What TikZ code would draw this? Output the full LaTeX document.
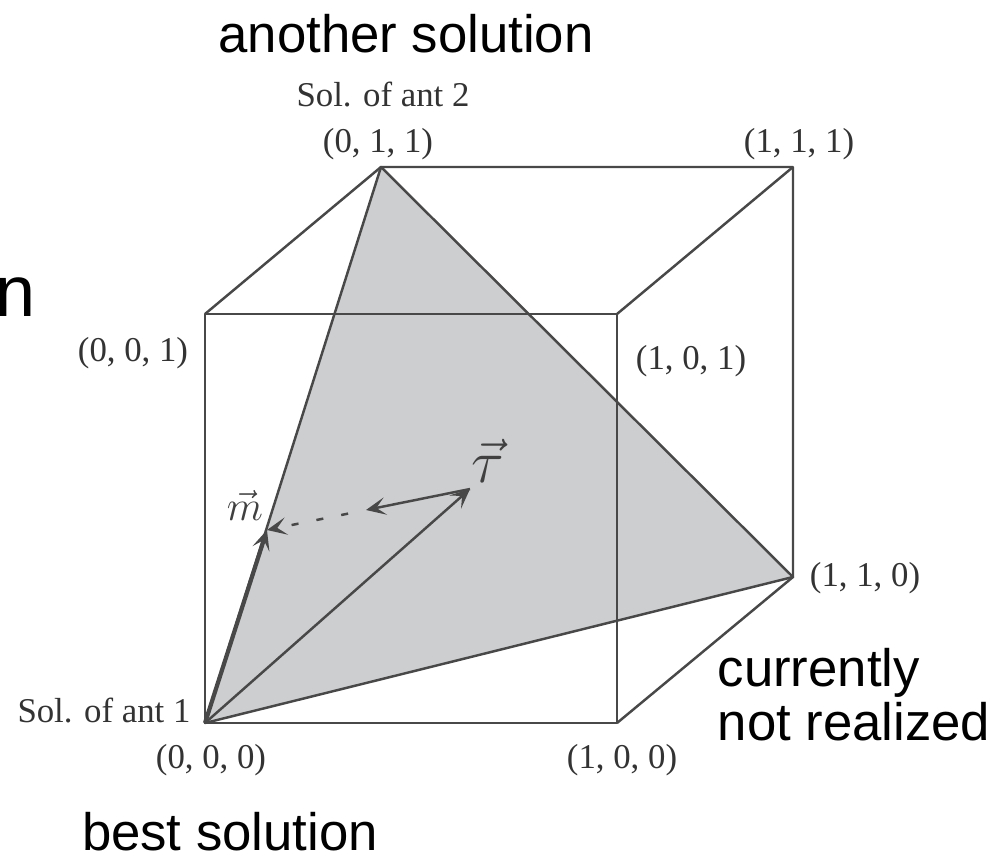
\documentclass[tikz,border=0pt]{standalone}
\usepackage{fontspec}
\usetikzlibrary{arrows.meta}
\setmainfont{Liberation Serif}
\newfontfamily\notefont{Liberation Sans}
\definecolor{cubeLine}{HTML}{484848}
\definecolor{planeFill}{HTML}{CDCED0}
\begin{document}
\begin{tikzpicture}[>={Stealth[inset=2.6pt,length=5.6pt,width=5pt]}]
% cube drawn on the pixel raster of the picture, y runs downwards
\def\pxsz{0.1mm}
\tikzset{
  cubeEdge/.style={draw=cubeLine, line width=0.7pt, line join=round},
  cornerLabel/.style={text=black!80, font=\fontsize{9.9}{11}\selectfont, inner sep=0pt},
  noteLabel/.style={text=black, font=\notefont\fontsize{15}{15.4}\selectfont, inner sep=0pt, align=left},
}
\begin{scope}[x=\pxsz, y=-\pxsz]
  \useasboundingbox (0,0) rectangle (1001,854);
  % Corners
  \coordinate (c000) at (205,723);
  \coordinate (c100) at (617,723);
  \coordinate (c001) at (205,314);
  \coordinate (c101) at (617,314);
  \coordinate (c011) at (381,167);
  \coordinate (c111) at (793,167);
  \coordinate (c110) at (793,577);
  \coordinate (vecT) at (470,489);
  \coordinate (vecM) at (267,530);
  \coordinate (dashA) at (366,510);
  % Plane
  \fill[planeFill] (c000) -- (c011) -- (c110) -- cycle;
  % Edges
  \draw[cubeEdge] (c000) -- (c100) -- (c101) -- (c001) -- cycle;
  \draw[cubeEdge] (c001) -- (c011) -- (c111) -- (c110) -- (c100);
  \draw[cubeEdge] (c101) -- (c111);
  \draw[cubeEdge] (c000) -- (c011) -- (c110) -- cycle;
  % Vectors
  \draw[cubeEdge, ->] (c000) -- (vecT);
  \draw[cubeEdge, line width=1.2pt, ->] (c000) -- (vecM);
  \draw[cubeEdge, ->] (vecT) -- (dashA);
  \draw[cubeEdge, dash pattern=on 2pt off 5.2pt, dash phase=2pt, ->] (dashA) -- (vecM);
  % Corner labels
  \node[cornerLabel] (l000) at (211,760) {(0, 0, 0)};
  \node[cornerLabel] (l100) at (622,760) {(1, 0, 0)};
  \node[cornerLabel] (l001) at (133,353) {(0, 0, 1)};
  \node[cornerLabel] (l101) at (691,361) {(1, 0, 1)};
  \node[cornerLabel] (l011) at (378,144) {(0, 1, 1)};
  \node[cornerLabel] (l111) at (799,144) {(1, 1, 1)};
  \node[cornerLabel] (l110) at (865,578) {(1, 1, 0)};
  \node[cornerLabel] (ant1) at (104,710) {Sol. of ant 1};
  \node[cornerLabel] (ant2) at (383,94) {Sol. of ant 2};
  % Vector labels
  \node[text=black!75, inner sep=0pt, font=\fontsize{11.5}{13}\selectfont] (labM) at (245,505) {$\vec{m}$};
  \node[text=black!75, inner sep=0pt, font=\fontsize{16}{18}\selectfont] (labT) at (488,461) {$\vec{\tau}$};
  % Notes
  \node[noteLabel] (noteA) at (406,34) {another solution};
  \node[noteLabel] (noteB) at (230,832) {best solution};
  \node[noteLabel, anchor=west] (noteC) at (717,695) {currently\\not realized};
  \node[anchor=base west, inner sep=0pt, text=black, font=\notefont\fontsize{20.5}{24}\selectfont] (noteN) at (-5,316) {n};
\end{scope}
\end{tikzpicture}
\end{document}
